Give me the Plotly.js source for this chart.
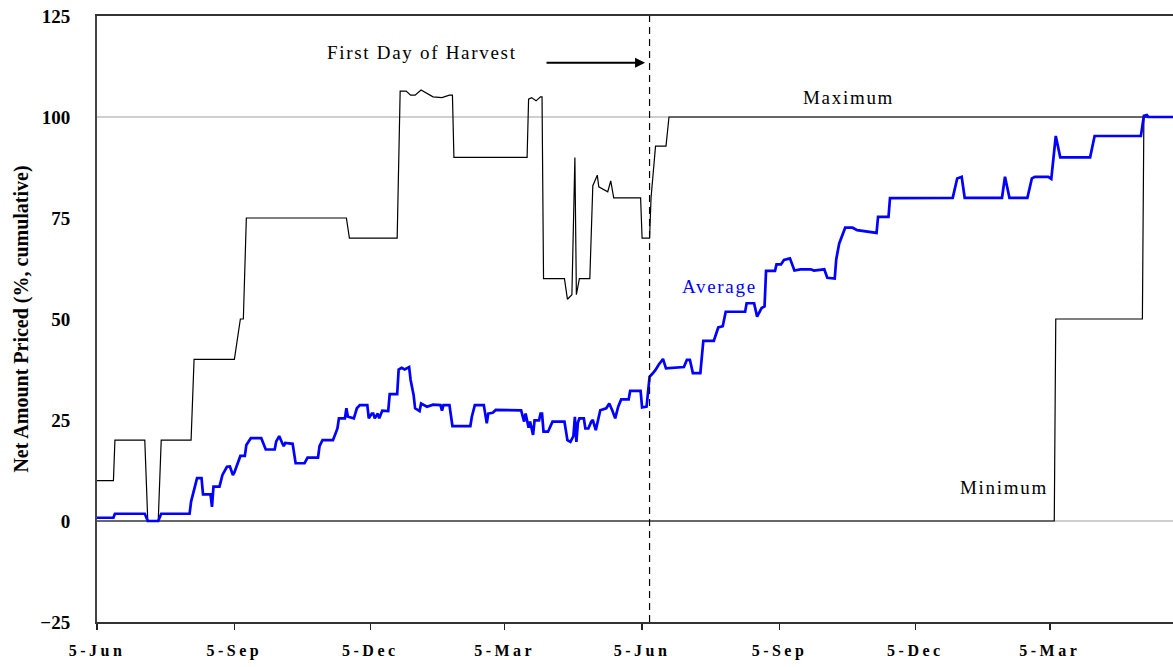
<!DOCTYPE html>
<html>
<head>
<meta charset="utf-8">
<script src="https://cdn.plot.ly/plotly-3.0.1.min.js"></script>
<style>
  html, body { margin: 0; padding: 0; background: #fff; }
  #chart { width: 1173px; height: 667px; }
  .xtick text { letter-spacing: 3.5px; }
  .annotation-text { letter-spacing: 1.7px; }
</style>
</head>
<body>
<div id="chart"></div>
<script>
// Days counted from 5-Jun (first year shown)
const startDate = Date.UTC(2005, 5, 5);

const maxDays = [0,11,12,32,34,41,43,63,65,92,96,98,100,167,169,201,203,207,210,213,217,221,225,231,236,238,239,288,289,291,294,297,298,299,313,315,318,320,321,323,330,332,335,336,342,344,346,364,365,370,371,374,381,383,721];
const maxVals = [10,10,20,20,0,0,20,20,40,40,50,50,75,75,70,70,106.4,106.4,105.4,105.4,106.7,105.8,105,104.8,105.4,105.4,90,90,104.4,104.8,104.0,105,105,60,60,54.9,56,90,56,60,60,83,85.6,82.7,81.5,84.2,80,80,70,70,80,92.8,92.8,100,100];

const minDays = [0,641,642,700,701,721];
const minVals = [0,0,50,50,100,100];

const avgDays = [0,11,12,32,34,41,43,62,63,65,
  67,70,71,76,77,78,82,84,87,89,
  91,92,94,96,99,100,103,110,113,119,
  120,122,124,125,126,131,133,139,141,148,
  149,151,158,161,162,166,167,168,172,174,
  176,181,182,184,185,186,188,189,191,195,
  196,201,202,204,206,209,210,212,213,216,
  217,219,221,225,230,231,232,236,238,250,
  251,253,259,261,262,265,267,284,286,287,
  289,290,292,293,296,297,298,299,302,305,
  313,315,317,319,320,321,322,323,326,327,
  329,331,332,334,336,337,341,343,345,347,
  349,351,356,357,364,365,368,370,372,374,
  376,379,381,393,395,397,399,404,406,413,
  416,419,421,434,435,440,442,445,447,448,
  454,455,458,460,464,467,471,478,480,487,
  489,494,495,497,501,506,509,514,522,523,
  530,531,573,576,579,581,606,608,611,623,
  626,628,637,639,641,642,645,665,668,699,
  701,703,704,721];
const avgVals = [0.8,0.8,1.8,1.8,0,0,1.8,1.8,4.8,7.7,
  10.6,10.6,6.6,6.6,3.5,8.5,8.5,11.4,13.4,13.5,
  11.4,12,14.3,16.1,16.1,18.8,20.5,20.5,17.7,17.7,
  19.7,21,19.3,18.5,19.3,19.1,14.3,14.3,15.7,15.7,
  18.5,20,20,22.9,25.4,25.4,27.9,25.8,25.4,27.9,
  28.7,28.7,25.4,26.6,26.6,25.4,26.6,25.4,27.3,27.2,
  31.4,31.4,37.5,37.9,37.5,38.1,34.9,31.2,27.9,27.2,
  29.1,28.7,28.3,28.8,28.7,27.3,28.7,28.7,23.5,23.5,
  25.8,28.7,28.7,24.2,26.6,26.8,27.5,27.4,24.6,26.6,
  23.1,24.6,21.3,24.9,24.9,26.6,26.6,22.1,22.1,24.6,
  24.6,20,19.6,21,25.8,19.6,24.3,25.4,25.4,22.9,
  22.9,24.6,25,22.5,26.2,27.4,27.9,29.1,27.4,25.4,
  28.3,30.1,30.1,32.2,32.2,28.1,28.3,35.7,36.5,37.4,
  38.6,40.1,37.8,38.1,39.9,39.9,36.6,36.6,44.6,44.6,
  47.9,48.2,51.8,51.8,53.9,53.9,50.6,52.7,53.1,61.9,
  61.9,63.5,63.5,64.6,65.0,62.0,62.3,62.3,62.0,62.3,
  60.2,60.0,64.8,68.7,72.6,72.6,72.0,71.8,71.3,75.3,
  75.3,79.9,80,84.8,85.2,80,80,85.2,80,80,
  84.8,85.2,85.2,84.7,93.1,95.3,90,90,95.3,95.3,
  100.3,100.5,100,100];

const yTickVals = [-25, 0, 25, 50, 75, 100, 125];
const harvestDay = 370;

function d(n) {
  const t = new Date(startDate + n * 86400000);
  return t.toISOString().slice(0, 19).replace('T', ' ');
}

const serif = '"Liberation Serif", "Times New Roman", serif';

const traces = [
  { x: minDays.map(d), y: minVals, mode: 'lines', name: 'Minimum',
    line: { color: '#000000', width: 1.2 }, hoverinfo: 'skip' },
  { x: maxDays.map(d), y: maxVals, mode: 'lines', name: 'Maximum',
    line: { color: '#000000', width: 1.2 }, hoverinfo: 'skip' },
  { x: avgDays.map(d), y: avgVals, mode: 'lines', name: 'Average',
    line: { color: '#0000FF', width: 2.7 }, hoverinfo: 'skip' }
];

const layout = {
  width: 1173, height: 667,
  margin: { l: 97, r: 0, t: 16, b: 45 },
  paper_bgcolor: '#ffffff', plot_bgcolor: '#ffffff',
  showlegend: false,
  xaxis: {
    type: 'date',
    range: [d(0), d(720.5)],
    tick0: d(0), dtick: 'M3', tickformat: '%-d-%b',
    showgrid: false, zeroline: false,
    showline: true, linecolor: '#333', linewidth: 2, mirror: true,
    ticks: 'outside', ticklen: 6, tickcolor: '#222', tickwidth: 1.5,
    ticklabelstandoff: 7,
    tickfont: { family: serif, size: 16, color: '#000', weight: 'bold' }
  },
  yaxis: {
    range: [-25, 125],
    tickvals: yTickVals,
    showgrid: false, zeroline: false,
    showline: true, linecolor: '#444', linewidth: 2,
    ticks: '', ticklabelstandoff: 21,
    tickfont: { family: serif, size: 19, color: '#000', weight: 'bold' },
    title: { text: 'Net Amount Priced (%, cumulative)', standoff: 6,
             font: { family: serif, size: 20, color: '#000', weight: 'bold' } }
  },
  shapes: [
    { type: 'line', xref: 'paper', yref: 'y', x0: 0, x1: 1, y0: 100, y1: 100,
      line: { color: '#a0a0a0', width: 1.2 }, layer: 'below' },
    { type: 'line', xref: 'paper', yref: 'y', x0: 0, x1: 1, y0: 0, y1: 0,
      line: { color: '#a0a0a0', width: 1.2 }, layer: 'below' },
    { type: 'line', xref: 'x', yref: 'paper', x0: d(harvestDay), x1: d(harvestDay), y0: 0, y1: 1,
      line: { color: '#000', width: 1.2, dash: '7px,5px' } }
  ],
  annotations: [
    { x: d(217.5), y: 116, xref: 'x', yref: 'y', text: 'First Day of Harvest', showarrow: false,
      font: { family: serif, size: 19, color: '#000' } },
    { x: d(367), y: 113.4, ax: d(300), ay: 113.4, axref: 'x', ayref: 'y', xref: 'x', yref: 'y',
      text: '', showarrow: true, arrowhead: 2, arrowsize: 1, arrowwidth: 2, arrowcolor: '#000', standoff: 0 },
    { x: d(503), y: 104.8, xref: 'x', yref: 'y', text: 'Maximum', showarrow: false,
      font: { family: serif, size: 19, color: '#000' } },
    { x: d(416.5), y: 58, xref: 'x', yref: 'y', text: 'Average', showarrow: false,
      font: { family: serif, size: 19, color: '#0000FF' } },
    { x: d(607.5), y: 8.2, xref: 'x', yref: 'y', text: 'Minimum', showarrow: false,
      font: { family: serif, size: 19, color: '#000' } }
  ]
};

Plotly.newPlot('chart', traces, layout, { displayModeBar: false, staticPlot: true });
</script>
</body>
</html>
